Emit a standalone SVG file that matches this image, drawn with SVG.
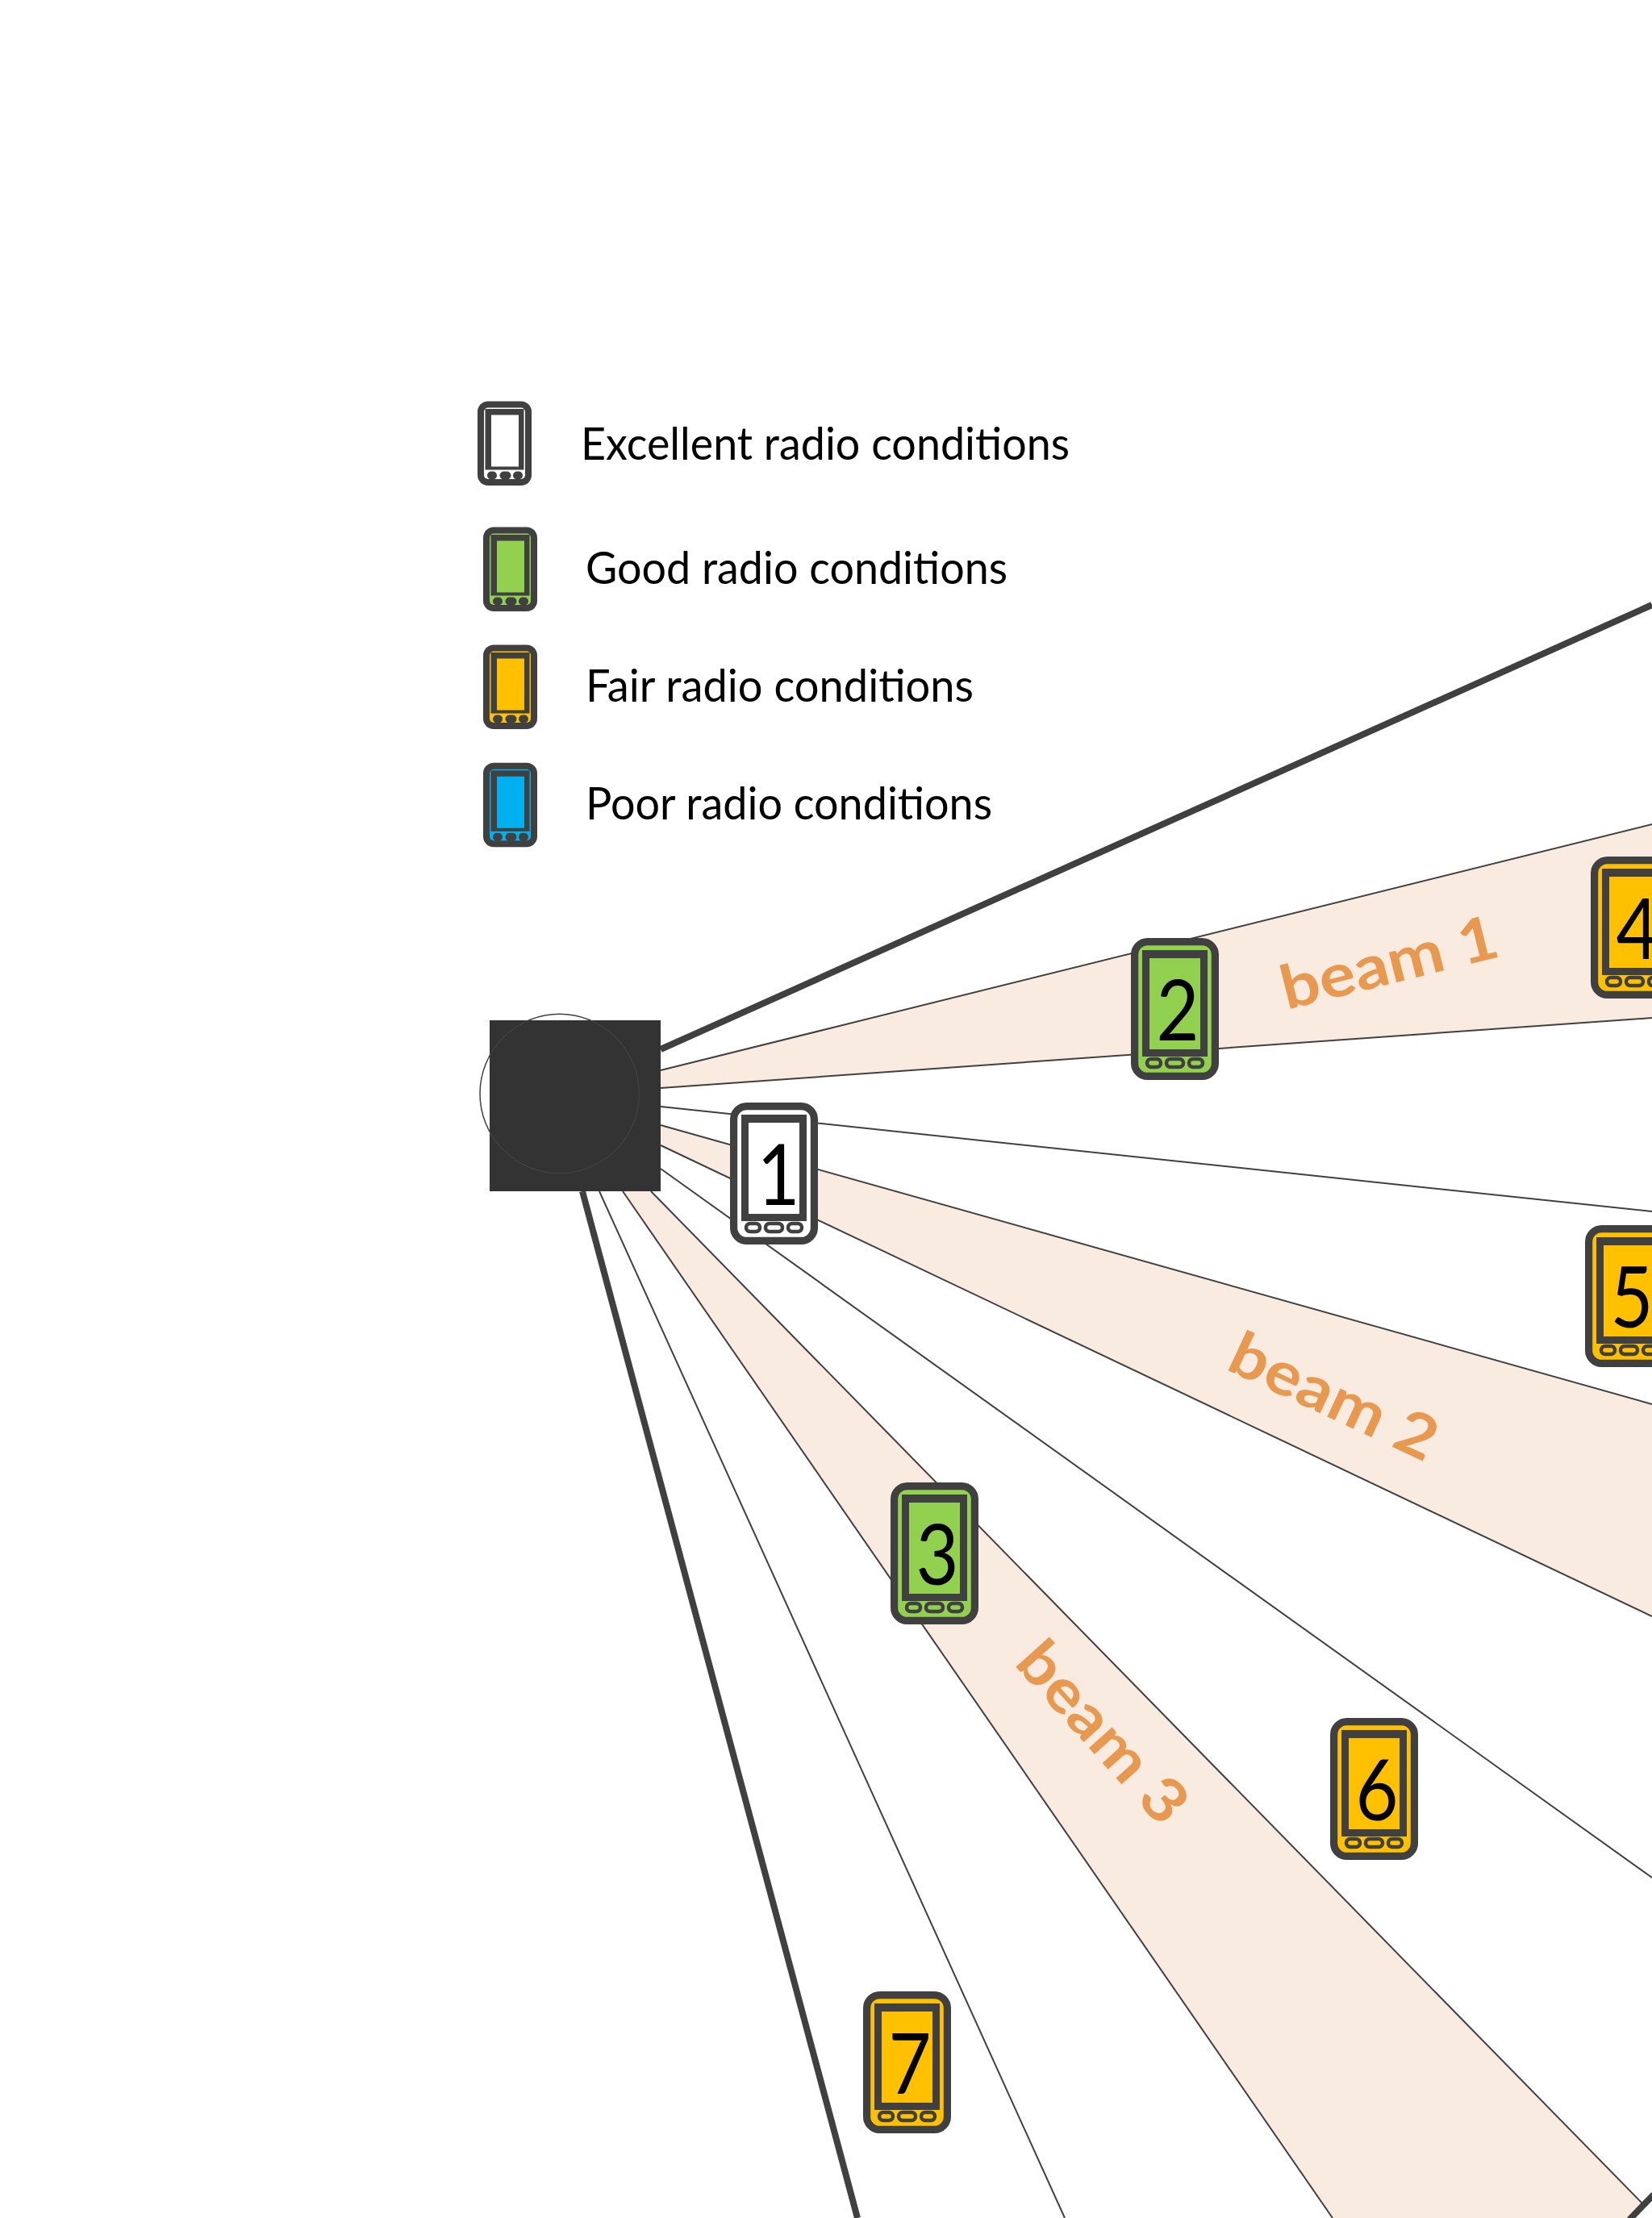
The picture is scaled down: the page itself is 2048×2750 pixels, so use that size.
<svg xmlns="http://www.w3.org/2000/svg" xmlns:xlink="http://www.w3.org/1999/xlink" width="2048" height="2750" viewBox="0 0 2048 2750">
<style>
.beam{fill:#f9ebdf;stroke:none}
.thin{stroke:#404040;stroke-width:2;fill:none}
.thick{stroke:#404040;stroke-width:8;fill:none}
.leg{font-family:"Lato","Liberation Sans",sans-serif;font-size:56px;fill:#000}
.num{font-family:"Lato","Liberation Sans",sans-serif;font-size:105px;fill:#000}
.blabel{font-family:"Lato","Liberation Sans",sans-serif;font-size:75px;font-weight:700;fill:#e9994f}
.ex{fill:#fff}.good{fill:#92d050}.fair{fill:#ffc000}.poor{fill:#00b0f0}
.dk{fill:#404040}
</style>
<defs>
<g id="btn">
<rect x="20" y="150" width="17" height="10" rx="5" fill="none" stroke="#404040" stroke-width="4.5"/>
<rect x="44" y="150" width="21" height="10" rx="5" fill="none" stroke="#404040" stroke-width="4.5"/>
<rect x="72" y="150" width="17" height="10" rx="5" fill="none" stroke="#404040" stroke-width="4.5"/>
</g>
<g id="phoneDark">
<rect x="14" y="15" width="81" height="132" class="dk"/>
</g>
<g id="legDark">
<path d="M9.5 9.5H57.5V85H9.5Z" class="dk"/>
<rect x="12" y="87" width="12" height="10" rx="5" class="dk"/>
<rect x="27.5" y="87" width="14" height="10" rx="5" class="dk"/>
<rect x="44" y="87" width="12" height="10" rx="5" class="dk"/>
</g>
</defs>
<g id="connectors">
<polygon class="beam" points="819,1327 2048,1022 2048,1262 819,1349"/>
<polygon class="beam" points="819,1395 2048,1741 2048,2004 819,1420"/>
<polygon class="beam" points="772,1477 807,1477 2037,2733 2020,2750 1652,2750"/>
<line class="thick" x1="819" y1="1301" x2="2048" y2="750"/>
<line class="thin" x1="819" y1="1327" x2="2048" y2="1022"/>
<line class="thin" x1="819" y1="1349" x2="2048" y2="1262"/>
<line class="thin" x1="819" y1="1372" x2="2048" y2="1502"/>
<line class="thin" x1="819" y1="1395" x2="2048" y2="1741"/>
<line class="thin" x1="819" y1="1420" x2="2048" y2="2004"/>
<line class="thin" x1="819" y1="1449" x2="2048" y2="2328"/>
<line class="thick" x1="722" y1="1477" x2="1063" y2="2750"/>
<line class="thin" x1="743" y1="1477" x2="1320" y2="2750"/>
<line class="thin" x1="772" y1="1477" x2="1652" y2="2750"/>
<line class="thin" x1="807" y1="1477" x2="2037" y2="2733"/>
<line class="thick" x1="2020" y1="2752" x2="2050" y2="2721"/>
</g>
<g id="base-station">
<rect x="607" y="1265" width="212" height="212" fill="#333333"/>
<circle cx="693.7" cy="1356" r="98.7" fill="none" stroke="#404040" stroke-width="1.5"/>
</g>
<g id="legend-excellent">
<g transform="translate(592,497.5)"><rect width="67" height="104.5" rx="13" class="dk"/><rect x="8" y="8" width="51" height="88.5" rx="5" class="ex"/><use xlink:href="#legDark" href="#legDark"/><rect x="17" y="17" width="34" height="64" class="ex"/></g>
<text class="leg" x="720" y="570" textLength="606" lengthAdjust="spacingAndGlyphs">Excellent radio conditions</text>
</g>
<g id="legend-good">
<g transform="translate(599,653.5)"><rect width="67" height="104.5" rx="13" class="dk"/><rect x="8" y="8" width="51" height="88.5" rx="5" class="good"/><use xlink:href="#legDark" href="#legDark"/><rect x="17" y="17" width="34" height="64" class="good"/></g>
<text class="leg" x="726" y="724" textLength="523" lengthAdjust="spacingAndGlyphs">Good radio conditions</text>
</g>
<g id="legend-fair">
<g transform="translate(599,799.5)"><rect width="67" height="104.5" rx="13" class="dk"/><rect x="8" y="8" width="51" height="88.5" rx="5" class="fair"/><use xlink:href="#legDark" href="#legDark"/><rect x="17" y="17" width="34" height="64" class="fair"/></g>
<text class="leg" x="726" y="870" textLength="481" lengthAdjust="spacingAndGlyphs">Fair radio conditions</text>
</g>
<g id="legend-poor">
<g transform="translate(599,945.7)"><rect width="67" height="104.5" rx="13" class="dk"/><rect x="8" y="8" width="51" height="88.5" rx="5" class="poor"/><use xlink:href="#legDark" href="#legDark"/><rect x="17" y="17" width="34" height="64" class="poor"/></g>
<text class="leg" x="726" y="1016" textLength="504" lengthAdjust="spacingAndGlyphs">Poor radio conditions</text>
</g>
<g id="phone-1" transform="translate(905,1367)"><rect x="4.6" y="4.6" width="99.8" height="166.8" rx="16" class="ex" stroke="#404040" stroke-width="9.2"/><use xlink:href="#phoneDark" href="#phoneDark"/><rect x="23" y="25" width="63" height="113" class="ex"/><use xlink:href="#btn" href="#btn"/><text class="num" x="60" y="127" text-anchor="middle" textLength="53" lengthAdjust="spacingAndGlyphs">1</text></g>
<g id="phone-2" transform="translate(1402,1163)"><rect x="4.6" y="4.6" width="99.8" height="166.8" rx="16" class="good" stroke="#404040" stroke-width="9.2"/><use xlink:href="#phoneDark" href="#phoneDark"/><rect x="23" y="25" width="63" height="113" class="good"/><use xlink:href="#btn" href="#btn"/><text class="num" x="58" y="127" text-anchor="middle" textLength="53" lengthAdjust="spacingAndGlyphs">2</text></g>
<g id="phone-3" transform="translate(1104,1838)"><rect x="4.6" y="4.6" width="99.8" height="166.8" rx="16" class="good" stroke="#404040" stroke-width="9.2"/><use xlink:href="#phoneDark" href="#phoneDark"/><rect x="23" y="25" width="63" height="113" class="good"/><use xlink:href="#btn" href="#btn"/><text class="num" x="58" y="127" text-anchor="middle" textLength="53" lengthAdjust="spacingAndGlyphs">3</text></g>
<g id="phone-4" transform="translate(1972,1062)"><rect x="4.6" y="4.6" width="99.8" height="166.8" rx="16" class="fair" stroke="#404040" stroke-width="9.2"/><use xlink:href="#phoneDark" href="#phoneDark"/><rect x="23" y="25" width="63" height="113" class="fair"/><use xlink:href="#btn" href="#btn"/><text class="num" x="58" y="127" text-anchor="middle" textLength="53" lengthAdjust="spacingAndGlyphs">4</text></g>
<g id="phone-5" transform="translate(1965,1519)"><rect x="4.6" y="4.6" width="99.8" height="166.8" rx="16" class="fair" stroke="#404040" stroke-width="9.2"/><use xlink:href="#phoneDark" href="#phoneDark"/><rect x="23" y="25" width="63" height="113" class="fair"/><use xlink:href="#btn" href="#btn"/><text class="num" x="58" y="127" text-anchor="middle" textLength="53" lengthAdjust="spacingAndGlyphs">5</text></g>
<g id="phone-6" transform="translate(1649,2130)"><rect x="4.6" y="4.6" width="99.8" height="166.8" rx="16" class="fair" stroke="#404040" stroke-width="9.2"/><use xlink:href="#phoneDark" href="#phoneDark"/><rect x="23" y="25" width="63" height="113" class="fair"/><use xlink:href="#btn" href="#btn"/><text class="num" x="58" y="127" text-anchor="middle" textLength="53" lengthAdjust="spacingAndGlyphs">6</text></g>
<g id="phone-7" transform="translate(1070,2469)"><rect x="4.6" y="4.6" width="99.8" height="166.8" rx="16" class="fair" stroke="#404040" stroke-width="9.2"/><use xlink:href="#phoneDark" href="#phoneDark"/><rect x="23" y="25" width="63" height="113" class="fair"/><use xlink:href="#btn" href="#btn"/><text class="num" x="58" y="127" text-anchor="middle" textLength="53" lengthAdjust="spacingAndGlyphs">7</text></g>
<text class="blabel" transform="translate(1595,1252) rotate(-14)" textLength="275" lengthAdjust="spacingAndGlyphs">beam 1</text>
<text class="blabel" transform="translate(1518,1697) rotate(25)" textLength="275" lengthAdjust="spacingAndGlyphs">beam 2</text>
<text class="blabel" transform="translate(1256,2063) rotate(48)" textLength="275" lengthAdjust="spacingAndGlyphs">beam 3</text>
</svg>
